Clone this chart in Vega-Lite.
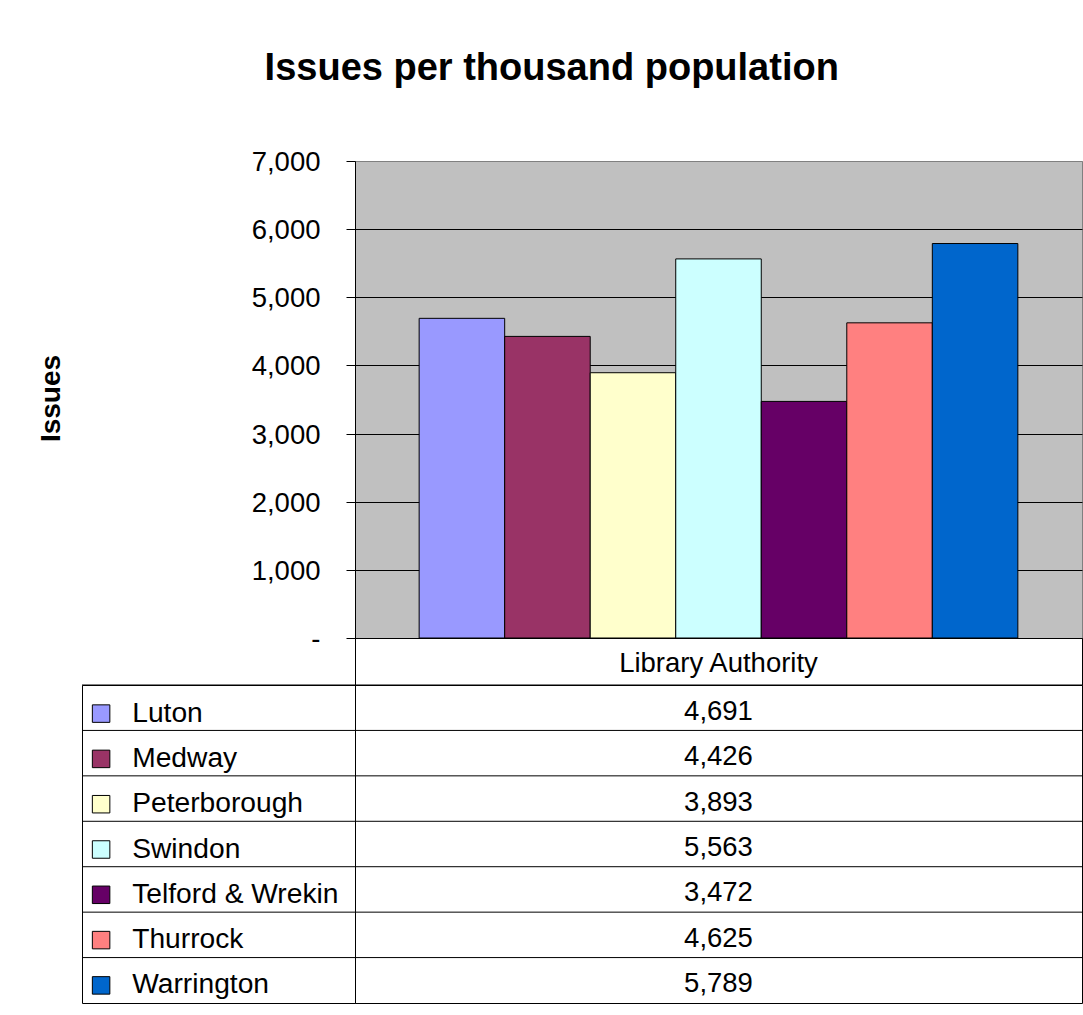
{
  "$schema": "https://vega.github.io/schema/vega-lite/v6.json",
  "autosize": {"type": "pad"},
  "padding": {"left": 36, "top": 50, "right": 0, "bottom": 0},
  "background": "#ffffff",
  "title": {
    "text": "Issues per thousand population",
    "font": "Liberation Sans",
    "fontSize": 38,
    "fontWeight": "bold",
    "color": "#000000",
    "anchor": "middle",
    "dx": -8,
    "offset": 60
  },
  "data": {
    "values": [
      {"authority": "Luton", "issues": 4691},
      {"authority": "Medway", "issues": 4426},
      {"authority": "Peterborough", "issues": 3893},
      {"authority": "Swindon", "issues": 5563},
      {"authority": "Telford & Wrekin", "issues": 3472},
      {"authority": "Thurrock", "issues": 4625},
      {"authority": "Warrington", "issues": 5789}
    ]
  },
  "columns": 2,
  "spacing": 0,
  "bounds": "flush",
  "resolve": {"scale": {"color": "shared"}, "legend": {"color": "shared"}},
  "concat": [
    {
      "width": 273,
      "height": 477,
      "mark": {"type": "text", "text": ""}
    },
    {
      "width": 727,
      "height": 477,
      "view": {"fill": "#C0C0C0", "stroke": "#808080", "strokeWidth": 1},
      "mark": {"type": "bar", "stroke": "#000000", "strokeWidth": 1},
      "encoding": {
        "x": {
          "field": "authority",
          "type": "nominal",
          "sort": null,
          "axis": null,
          "scale": {"type": "band", "paddingInner": 0, "paddingOuter": 0.75}
        },
        "y": {
          "field": "issues",
          "type": "quantitative",
          "scale": {"domain": [0, 7000], "nice": false},
          "axis": {
            "title": "Issues",
            "values": [0, 1000, 2000, 3000, 4000, 5000, 6000, 7000],
            "labelExpr": "datum.value === 0 ? '-' : format(datum.value, ',')",
            "labelFontSize": 27.5,
            "labelColor": "#000000",
            "labelPadding": 26,
            "labelOffset": 1.5,
            "tickSize": 9,
            "tickColor": "#000000",
            "domainColor": "#000000",
            "grid": true,
            "gridColor": {"condition": {"test": "datum.value === 7000", "value": "#808080"}, "value": "#000000"},
            "gridOpacity": 1,
            "titleFontSize": 28,
            "titleFontWeight": "bold",
            "titleColor": "#000000",
            "titleAngle": -90,
            "titleAlign": "center",
            "titleBaseline": "middle",
            "titleX": -304,
            "titleY": 237
          }
        },
        "color": {
          "field": "authority",
          "type": "nominal",
          "sort": null,
          "scale": {
            "domain": ["Luton", "Medway", "Peterborough", "Swindon", "Telford & Wrekin", "Thurrock", "Warrington"],
            "range": ["#9999FF", "#993366", "#FFFFCC", "#CCFFFF", "#660066", "#FF8080", "#0066CC"]
          },
          "legend": {
            "orient": "none",
            "legendX": 5,
            "legendY": 538.5,
            "title": null,
            "symbolType": "square",
            "symbolSize": 306,
            "symbolStrokeColor": "#000000",
            "symbolStrokeWidth": 1,
            "symbolOpacity": 1,
            "labelFontSize": 28.2,
            "labelColor": "#000000",
            "labelLimit": 400,
            "labelOffset": 17,
            "rowPadding": 16.3,
            "padding": 0
          }
        }
      }
    },
    {
      "width": 273,
      "height": 47,
      "mark": {"type": "text", "text": ""}
    },
    {
      "width": 727,
      "height": 47,
      "view": {"stroke": "#000000", "strokeWidth": 1},
      "data": {"values": [{"header": "Library Authority"}]},
      "mark": {"type": "text", "fontSize": 27.5, "color": "#000000", "dy": 2},
      "encoding": {"text": {"field": "header", "type": "nominal"}}
    },
    {
      "width": 273,
      "height": 318,
      "view": {"stroke": "#000000", "strokeWidth": 1},
      "mark": {"type": "rule", "color": "#000000", "strokeWidth": 1},
      "encoding": {
        "y": {
          "field": "authority",
          "type": "nominal",
          "sort": null,
          "bandPosition": 0,
          "axis": null,
          "scale": {"type": "band", "paddingInner": 0, "paddingOuter": 0}
        }
      }
    },
    {
      "width": 727,
      "height": 318,
      "view": {"stroke": "#000000", "strokeWidth": 1},
      "encoding": {
        "y": {
          "field": "authority",
          "type": "nominal",
          "sort": null,
          "axis": null,
          "scale": {"type": "band", "paddingInner": 0, "paddingOuter": 0}
        }
      },
      "layer": [
        {
          "mark": {"type": "rule", "color": "#000000", "strokeWidth": 1},
          "encoding": {
            "y": {
              "field": "authority",
              "type": "nominal",
              "sort": null,
              "bandPosition": 0,
              "axis": null,
              "scale": {"type": "band", "paddingInner": 0, "paddingOuter": 0}
            }
          }
        },
        {
          "mark": {"type": "text", "fontSize": 27.5, "color": "#000000", "dy": 4},
          "encoding": {
            "text": {"field": "issues", "type": "quantitative", "format": ","}
          }
        }
      ]
    }
  ],
  "config": {
    "font": "Liberation Sans",
    "view": {"stroke": null},
    "axis": {"labelFont": "Liberation Sans", "titleFont": "Liberation Sans"},
    "legend": {"labelFont": "Liberation Sans"},
    "text": {"font": "Liberation Sans"}
  }
}
